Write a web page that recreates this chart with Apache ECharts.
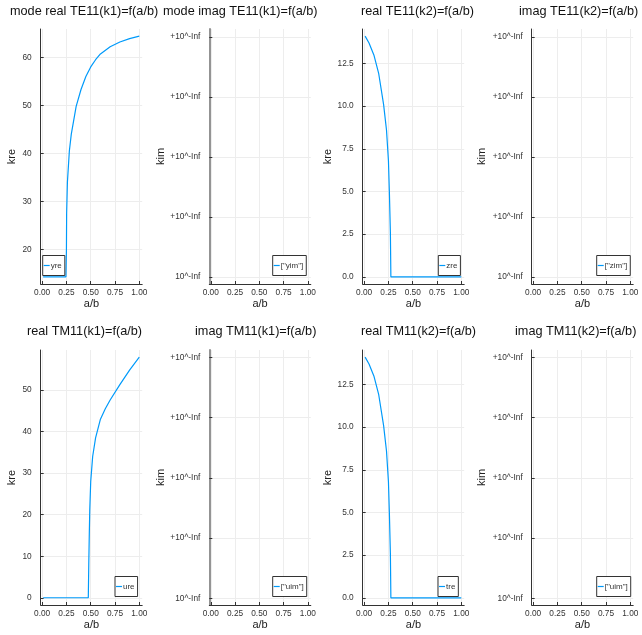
<!DOCTYPE html>
<html><head><meta charset="utf-8">
<script src="https://cdn.jsdelivr.net/npm/echarts@6/dist/echarts.min.js"></script>
<style>html,body{margin:0;padding:0;background:#fff}#c{width:642px;height:635px}</style>
</head><body><div id="c"></div>
<script>
// ---- data ----
const titles = ["mode real TE11(k1)=f(a/b)", "mode imag TE11(k1)=f(a/b)", "real TE11(k2)=f(a/b)", "imag TE11(k2)=f(a/b)",
                "real TM11(k1)=f(a/b)", "imag TM11(k1)=f(a/b)", "real TM11(k2)=f(a/b)", "imag TM11(k2)=f(a/b)"];
const seriesNames = ["yre", "[\"yim\"]", "zre", "[\"zim\"]", "ure", "[\"uim\"]", "tre", "[\"uim\"]"];
const yNames = ["kre", "kim", "kre", "kim", "kre", "kim", "kre", "kim"];

const yreX = [0.01, 0.05, 0.10, 0.15, 0.20, 0.245, 0.25, 0.252, 0.26, 0.28, 0.30, 0.35, 0.40, 0.45, 0.50, 0.55, 0.60, 0.70, 0.80, 0.90, 1.00];
const yreY = [14.3, 14.3, 14.3, 14.3, 14.3, 14.3, 20.0, 27.5, 34.0, 40.5, 44.0, 49.8, 53.3, 56.0, 58.0, 59.5, 60.7, 62.2, 63.2, 63.9, 64.4];

const zreX = [0.01, 0.05, 0.10, 0.15, 0.20, 0.23, 0.25, 0.26, 0.27, 0.275, 0.30, 0.40, 0.50, 0.60, 0.70, 0.80, 0.90, 1.00];
const zreY = [14.1, 13.7, 13.0, 11.9, 10.1, 8.6, 6.8, 4.9, 2.6, 0.0, 0.0, 0.0, 0.0, 0.0, 0.0, 0.0, 0.0, 0.0];

const ureX = [0.01, 0.10, 0.20, 0.30, 0.40, 0.475, 0.48, 0.485, 0.49, 0.50, 0.52, 0.55, 0.60, 0.65, 0.70, 0.80, 0.90, 1.00];
const ureY = [0.0, 0.0, 0.0, 0.0, 0.0, 0.0, 8.0, 15.0, 21.0, 28.0, 34.0, 38.5, 43.0, 45.5, 47.6, 51.3, 54.8, 57.9];

const treX = [0.01, 0.05, 0.10, 0.15, 0.20, 0.23, 0.25, 0.26, 0.27, 0.275, 0.30, 0.40, 0.50, 0.60, 0.70, 0.80, 0.90, 1.00];
const treY = [14.1, 13.7, 13.0, 11.9, 10.1, 8.6, 6.8, 4.9, 2.6, 0.0, 0.0, 0.0, 0.0, 0.0, 0.0, 0.0, 0.0, 0.0];

const xTicks = [0, 0.25, 0.5, 0.75, 1];
const yTicksTE1 = [20, 30, 40, 50, 60];
const yTicksK2 = [0, 2.5, 5, 7.5, 10, 12.5];
const yTicksTM1 = [0, 10, 20, 30, 40, 50];
const imTicks = [0, 1, 2, 3, 4];
const imLabelTop = "+10^-Inf";
const imLabelBottom = "10^-Inf";

// ---- layout ----
const FONT = "Liberation Sans";
const colLeft = [40.7, 209.3, 362.7, 531.7];
const rowTop = [29, 350];
const rowH = [255, 255];
const gridW = 101.5;
const titleLeft = [10, 163, 361, 519, 27, 195, 361, 515];
const titleTop = [5, 325];
const nameGaps = [23, 43, 28, 44, 23, 43, 28, 44];
const legendPos = [[42.7, 255.5], [272.7, 255.5], [438.3, 255.5], [596.7, 255.5], [115, 576.5], [272.7, 576.5], [438, 576.5], [596.7, 576.5]];

const zip = (xs, ys) => xs.map((x, i) => [x, ys[i]]);
const dataSets = [zip(yreX, yreY), [], zip(zreX, zreY), [], zip(ureX, ureY), [], zip(treX, treY), []];
const yRanges = [[12.8, 65.9], [-0.12, 4.13], [-0.42, 14.52], [-0.12, 4.13], [-1.74, 59.64], [-0.11, 4.12], [-0.42, 14.52], [-0.11, 4.12]];
const yTickSets = [yTicksTE1, imTicks, yTicksK2, imTicks, yTicksTM1, imTicks, yTicksK2, imTicks];

const grids = [], xAxes = [], yAxes = [], series = [], legends = [], titleArr = [];
const axisLineStyle = {color: '#333', width: 1};
const thickAxisStyle = {color: '#888', width: 1.8};
const splitStyle = {color: '#ededed', width: 1};
for (let i = 0; i < 8; i++) {
  const r = Math.floor(i / 4), c = i % 4;
  grids.push({left: colLeft[c], top: rowTop[r], width: gridW, height: rowH[r]});
  titleArr.push({text: titles[i], left: titleLeft[i], top: titleTop[r], padding: 0,
    textStyle: {fontFamily: FONT, fontSize: 12.7, fontWeight: 'normal', color: '#111'}});
  xAxes.push({gridIndex: i, type: 'value', min: -0.015, max: 1.03,
    name: 'a/b', nameLocation: 'middle', nameGap: 14,
    nameTextStyle: {fontFamily: FONT, fontSize: 11, color: '#222'},
    axisLine: {onZero: false, lineStyle: axisLineStyle},
    axisTick: {show: true, inside: true, length: 3, customValues: xTicks, lineStyle: axisLineStyle},
    axisLabel: {customValues: xTicks, formatter: v => v.toFixed(2), fontFamily: FONT, fontSize: 8.3, color: '#333', margin: 5},
    splitLine: {show: true, lineStyle: splitStyle}});
  const isIm = (c % 2 === 1);
  const dec = (c === 2) ? 1 : 0;
  yAxes.push({gridIndex: i, type: 'value', min: yRanges[i][0], max: yRanges[i][1],
    name: yNames[i], nameLocation: 'middle', nameGap: nameGaps[i],
    nameTextStyle: {fontFamily: FONT, fontSize: 11, color: '#222'},
    axisLine: {onZero: false, lineStyle: (c === 1) ? thickAxisStyle : axisLineStyle},
    axisTick: {show: true, inside: true, length: 3, customValues: yTickSets[i], lineStyle: axisLineStyle},
    axisLabel: {customValues: yTickSets[i], fontFamily: FONT, fontSize: 8.3, color: '#333', margin: 9,
      formatter: isIm ? (v => v === 0 ? imLabelBottom : imLabelTop) : (v => v.toFixed(dec))},
    splitLine: {show: true, lineStyle: splitStyle}});
  series.push({type: 'line', name: seriesNames[i], xAxisIndex: i, yAxisIndex: i, data: dataSets[i],
    showSymbol: false, symbol: 'none', color: '#009AFA', lineStyle: {width: 1.2, color: '#009AFA'}, silent: true});
  legends.push({data: [seriesNames[i]], left: legendPos[i][0], top: legendPos[i][1],
    icon: 'rect', itemWidth: 6, itemHeight: 1.2, itemGap: 0, padding: [6, 3, 6, 1],
    borderColor: '#333', borderWidth: 1, borderRadius: 0, backgroundColor: '#fff',
    textStyle: {fontFamily: FONT, fontSize: 8, color: '#333', padding: [0, 0, 0, -4]}, selectedMode: false});
}

const chart = echarts.init(document.getElementById('c'), null, {renderer: 'canvas'});
chart.setOption({
  animation: false,
  backgroundColor: '#fff',
  title: titleArr,
  grid: grids,
  xAxis: xAxes,
  yAxis: yAxes,
  legend: legends,
  series: series
});
</script>
</body></html>
